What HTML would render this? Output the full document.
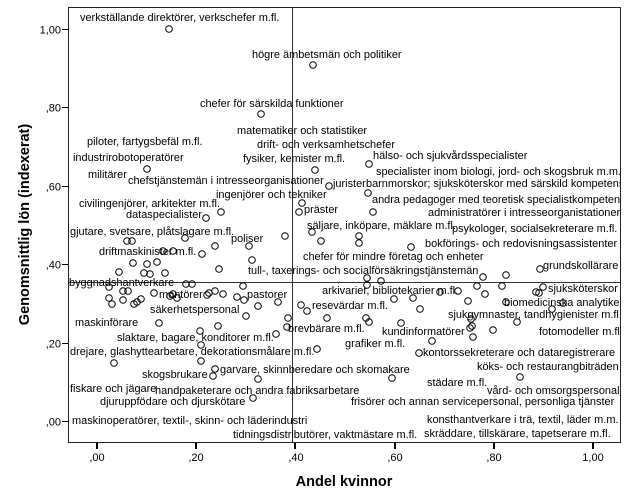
<!DOCTYPE html>
<html>
<head>
<meta charset="utf-8">
<style>
  html, body { margin:0; padding:0; background:#fff; }
  svg { display:block; }
  .lbl { font-family:"Liberation Sans", Arial, sans-serif; font-size:10.95px; fill:#000; }
  .tick { font-family:"Liberation Sans", Arial, sans-serif; font-size:11px; fill:#000; }
  .ttl { font-family:"Liberation Sans", Arial, sans-serif; font-size:14.5px; font-weight:bold; fill:#000; }
</style>
</head>
<body>
<svg width="629" height="504" viewBox="0 0 629 504" xmlns="http://www.w3.org/2000/svg">
  <defs>
    <clipPath id="plot"><rect x="69" y="8" width="551" height="434"/></clipPath>
  </defs>
  <rect x="0" y="0" width="629" height="504" fill="#fff"/>

  <!-- reference lines -->
  <line x1="292.5" y1="7.5" x2="292.5" y2="442.5" stroke="#333" stroke-width="1"/>
  <line x1="68.5" y1="282.5" x2="620.5" y2="282.5" stroke="#333" stroke-width="1"/>

  <!-- labels -->
  <g class="lbl" clip-path="url(#plot)">
    <text x="80" y="21">verkställande direktörer, verkschefer m.fl.</text>
    <text x="252" y="58">högre ämbetsmän och politiker</text>
    <text x="200" y="107">chefer för särskilda funktioner</text>
    <text x="237" y="134">matematiker och statistiker</text>
    <text x="87" y="145">piloter, fartygsbefäl m.fl.</text>
    <text x="257" y="148">drift- och verksamhetschefer</text>
    <text x="73" y="161">industrirobotoperatörer</text>
    <text x="243" y="162">fysiker, kemister m.fl.</text>
    <text x="373" y="159">hälso- och sjukvårdsspecialister</text>
    <text x="376" y="175">specialister inom biologi, jord- och skogsbruk m.m.</text>
    <text x="88" y="178">militärer</text>
    <text x="128" y="184">chefstjänstemän i intresseorganisationer</text>
    <text x="333" y="187">jurister</text>
    <text x="366" y="187">barnmorskor; sjuksköterskor med särskild kompetens</text>
    <text x="216" y="198">ingenjörer och tekniker</text>
    <text x="372" y="203">andra pedagoger med teoretisk specialistkompetens</text>
    <text x="79" y="207">civilingenjörer, arkitekter m.fl.</text>
    <text x="304" y="213">präster</text>
    <text x="428" y="216">administratörer i intresseorganistationer</text>
    <text x="126" y="218">dataspecialister</text>
    <text x="307" y="229">säljare, inköpare, mäklare m.fl.</text>
    <text x="452" y="232">psykologer, socialsekreterare m.fl.</text>
    <text x="70" y="235">gjutare, svetsare, plåtslagare m.fl.</text>
    <text x="231" y="242">poliser</text>
    <text x="425" y="247">bokförings- och redovisningsassistenter</text>
    <text x="99" y="255">driftmaskinister m.fl.</text>
    <text x="303" y="260">chefer för mindre företag och enheter</text>
    <text x="543" y="269">grundskollärare</text>
    <text x="248" y="274">tull-, taxerings- och socialförsäkringstjänstemän</text>
    <text x="69" y="286">byggnadshantverkare</text>
    <text x="548" y="292">sjuksköterskor</text>
    <text x="322" y="294">arkivarier, bibliotekarier m.fl.</text>
    <text x="159" y="298">montörer</text>
    <text x="247" y="298">pastorer</text>
    <text x="504" y="306">biomedicinska analytiker</text>
    <text x="312" y="309">resevärdar m.fl.</text>
    <text x="150" y="313">säkerhetspersonal</text>
    <text x="448" y="318">sjukgymnaster, tandhygienister m.fl.</text>
    <text x="75" y="326">maskinförare</text>
    <text x="288" y="332">brevbärare m.fl.</text>
    <text x="382" y="335">kundinformatörer</text>
    <text x="539" y="335">fotomodeller m.fl.</text>
    <text x="117" y="341">slaktare, bagare, konditorer m.fl.</text>
    <text x="345" y="347">grafiker m.fl.</text>
    <text x="70" y="355">drejare, glashyttearbetare, dekorationsmålare m.fl.</text>
    <text x="423" y="356">kontorssekreterare och dataregistrerare</text>
    <text x="477" y="370">köks- och restaurangbiträden</text>
    <text x="220" y="373">garvare, skinnberedare och skomakare</text>
    <text x="142" y="378">skogsbrukare</text>
    <text x="427" y="386">städare m.fl.</text>
    <text x="70" y="392">fiskare och jägare</text>
    <text x="155" y="394">handpaketerare och andra fabriksarbetare</text>
    <text x="487" y="394">vård- och omsorgspersonal</text>
    <text x="100" y="405">djuruppfödare och djurskötare</text>
    <text x="351" y="405">frisörer och annan servicepersonal, personliga tjänster</text>
    <text x="427" y="423">konsthantverkare i trä, textil, läder m.m.</text>
    <text x="72" y="424">maskinoperatörer, textil-, skinn- och läderindustri</text>
    <text x="424" y="437">skräddare, tillskärare, tapetserare m.fl.</text>
    <text x="233" y="438">tidningsdistributörer, vaktmästare m.fl.</text>
  </g>

  <!-- points -->
  <g fill="none" stroke="#000" stroke-width="1">
    <circle cx="169" cy="29" r="3.3"/>
    <circle cx="313" cy="65" r="3.3"/>
    <circle cx="261" cy="114" r="3.3"/>
    <circle cx="147" cy="169" r="3.3"/>
    <circle cx="315" cy="170" r="3.3"/>
    <circle cx="369" cy="164" r="3.3"/>
    <circle cx="329" cy="186" r="3.3"/>
    <circle cx="368" cy="193" r="3.3"/>
    <circle cx="302" cy="203" r="3.3"/>
    <circle cx="299" cy="212" r="3.3"/>
    <circle cx="373" cy="212" r="3.3"/>
    <circle cx="221" cy="212" r="3.3"/>
    <circle cx="206" cy="218" r="3.3"/>
    <circle cx="127" cy="241" r="3.3"/>
    <circle cx="132" cy="241" r="3.3"/>
    <circle cx="185" cy="238" r="3.3"/>
    <circle cx="215" cy="246" r="3.3"/>
    <circle cx="249" cy="246" r="3.3"/>
    <circle cx="285" cy="236" r="3.3"/>
    <circle cx="312" cy="232" r="3.3"/>
    <circle cx="321" cy="241" r="3.3"/>
    <circle cx="359" cy="236" r="3.3"/>
    <circle cx="359" cy="243" r="3.3"/>
    <circle cx="411" cy="247" r="3.3"/>
    <circle cx="163" cy="251" r="3.3"/>
    <circle cx="173" cy="251" r="3.3"/>
    <circle cx="202" cy="254" r="3.3"/>
    <circle cx="133" cy="263" r="3.3"/>
    <circle cx="147" cy="264" r="3.3"/>
    <circle cx="157" cy="262" r="3.3"/>
    <circle cx="219" cy="269" r="3.3"/>
    <circle cx="252" cy="260" r="3.3"/>
    <circle cx="119" cy="272" r="3.3"/>
    <circle cx="144" cy="273" r="3.3"/>
    <circle cx="150" cy="274" r="3.3"/>
    <circle cx="165" cy="273" r="3.3"/>
    <circle cx="483" cy="277" r="3.3"/>
    <circle cx="506" cy="275" r="3.3"/>
    <circle cx="540" cy="269" r="3.3"/>
    <circle cx="367" cy="278" r="3.3"/>
    <circle cx="381" cy="281" r="3.3"/>
    <circle cx="367" cy="285" r="3.3"/>
    <circle cx="186" cy="284" r="3.3"/>
    <circle cx="192" cy="284" r="3.3"/>
    <circle cx="243" cy="286" r="3.3"/>
    <circle cx="109" cy="287" r="3.3"/>
    <circle cx="123" cy="291" r="3.3"/>
    <circle cx="128" cy="291" r="3.3"/>
    <circle cx="109" cy="298" r="3.3"/>
    <circle cx="112" cy="304" r="3.3"/>
    <circle cx="123" cy="300" r="3.3"/>
    <circle cx="134" cy="304" r="3.3"/>
    <circle cx="137" cy="302" r="3.3"/>
    <circle cx="141" cy="299" r="3.3"/>
    <circle cx="154" cy="293" r="3.3"/>
    <circle cx="170" cy="296" r="3.3"/>
    <circle cx="173" cy="294" r="3.3"/>
    <circle cx="177" cy="298" r="3.3"/>
    <circle cx="207" cy="295" r="3.3"/>
    <circle cx="209" cy="293" r="3.3"/>
    <circle cx="215" cy="291" r="3.3"/>
    <circle cx="223" cy="294" r="3.3"/>
    <circle cx="237" cy="297" r="3.3"/>
    <circle cx="244" cy="300" r="3.3"/>
    <circle cx="258" cy="306" r="3.3"/>
    <circle cx="278" cy="302" r="3.3"/>
    <circle cx="246" cy="316" r="3.3"/>
    <circle cx="288" cy="318" r="3.3"/>
    <circle cx="159" cy="323" r="3.3"/>
    <circle cx="200" cy="331" r="3.3"/>
    <circle cx="218" cy="326" r="3.3"/>
    <circle cx="276" cy="334" r="3.3"/>
    <circle cx="201" cy="345" r="3.3"/>
    <circle cx="301" cy="305" r="3.3"/>
    <circle cx="307" cy="311" r="3.3"/>
    <circle cx="327" cy="318" r="3.3"/>
    <circle cx="366" cy="318" r="3.3"/>
    <circle cx="369" cy="322" r="3.3"/>
    <circle cx="401" cy="323" r="3.3"/>
    <circle cx="440" cy="292" r="3.3"/>
    <circle cx="458" cy="291" r="3.3"/>
    <circle cx="477" cy="286" r="3.3"/>
    <circle cx="485" cy="294" r="3.3"/>
    <circle cx="502" cy="286" r="3.3"/>
    <circle cx="536" cy="292" r="3.3"/>
    <circle cx="539" cy="293" r="3.3"/>
    <circle cx="543" cy="287" r="3.3"/>
    <circle cx="394" cy="299" r="3.3"/>
    <circle cx="413" cy="298" r="3.3"/>
    <circle cx="468" cy="301" r="3.3"/>
    <circle cx="506" cy="302" r="3.3"/>
    <circle cx="563" cy="303" r="3.3"/>
    <circle cx="420" cy="309" r="3.3"/>
    <circle cx="552" cy="309" r="3.3"/>
    <circle cx="471" cy="319" r="3.3"/>
    <circle cx="517" cy="322" r="3.3"/>
    <circle cx="470" cy="328" r="3.3"/>
    <circle cx="472" cy="326" r="3.3"/>
    <circle cx="493" cy="330" r="3.3"/>
    <circle cx="473" cy="337" r="3.3"/>
    <circle cx="287" cy="327" r="3.3"/>
    <circle cx="432" cy="341" r="3.3"/>
    <circle cx="317" cy="349" r="3.3"/>
    <circle cx="201" cy="361" r="3.3"/>
    <circle cx="114" cy="363" r="3.3"/>
    <circle cx="215" cy="369" r="3.3"/>
    <circle cx="213" cy="376" r="3.3"/>
    <circle cx="258" cy="379" r="3.3"/>
    <circle cx="253" cy="398" r="3.3"/>
    <circle cx="419" cy="353" r="3.3"/>
    <circle cx="392" cy="378" r="3.3"/>
    <circle cx="520" cy="377" r="3.3"/>
  </g>

  <!-- frame -->
  <rect x="68.5" y="7.5" width="552" height="435" fill="none" stroke="#222" stroke-width="1"/>

  <!-- y ticks -->
  <g stroke="#000" stroke-width="1">
    <line x1="62" y1="29.5" x2="68" y2="29.5"/>
    <line x1="62" y1="107.5" x2="68" y2="107.5"/>
    <line x1="62" y1="186.5" x2="68" y2="186.5"/>
    <line x1="62" y1="264.5" x2="68" y2="264.5"/>
    <line x1="62" y1="343.5" x2="68" y2="343.5"/>
    <line x1="62" y1="421.5" x2="68" y2="421.5"/>
  </g>
  <g class="tick" text-anchor="end">
    <text x="61" y="33.5">1,00</text>
    <text x="61" y="111.5">,80</text>
    <text x="61" y="190.5">,60</text>
    <text x="61" y="268.5">,40</text>
    <text x="61" y="347.5">,20</text>
    <text x="61" y="425.5">,00</text>
  </g>

  <!-- x ticks -->
  <g fill="#000">
    <rect x="96" y="443" width="2" height="6"/>
    <rect x="195" y="443" width="2" height="6"/>
    <rect x="294" y="443" width="2" height="6"/>
    <rect x="394" y="443" width="2" height="6"/>
    <rect x="493" y="443" width="2" height="6"/>
    <rect x="592" y="443" width="2" height="6"/>
  </g>
  <g class="tick" text-anchor="middle">
    <text x="97" y="461">,00</text>
    <text x="196" y="461">,20</text>
    <text x="296" y="461">,40</text>
    <text x="395" y="461">,60</text>
    <text x="494" y="461">,80</text>
    <text x="593" y="461">1,00</text>
  </g>

  <!-- axis titles -->
  <text class="ttl" x="344" y="486" text-anchor="middle">Andel kvinnor</text>
  <text class="ttl" transform="translate(29,224.5) rotate(-90)" text-anchor="middle">Genomsnittlig lön (indexerat)</text>
</svg>
</body>
</html>
